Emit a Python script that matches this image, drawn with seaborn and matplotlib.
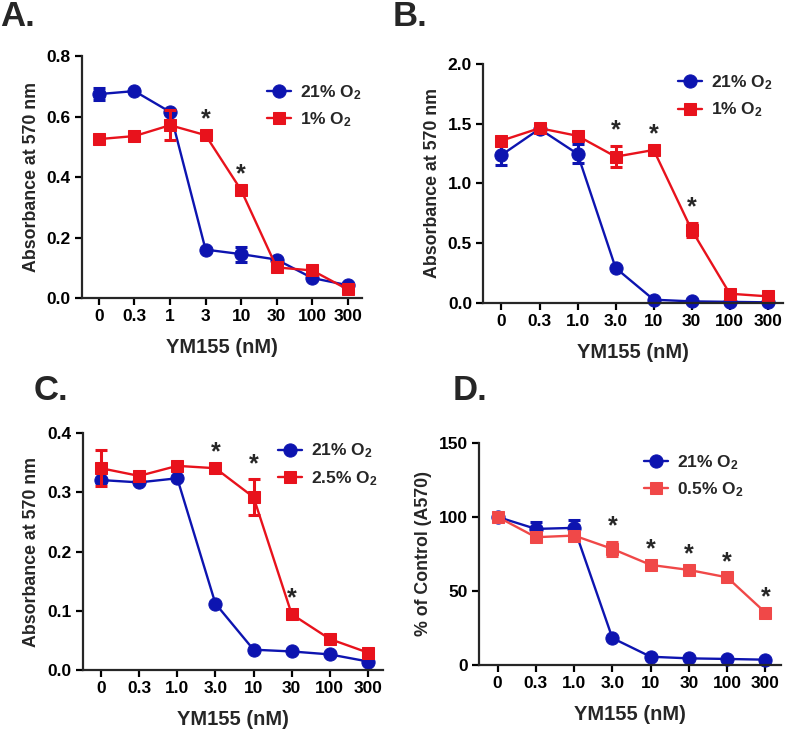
"""
Viabilidad (MTT) frente a dosis de YM155 en normoxia e hipoxia.
Cuatro paneles A-D, valores leídos de la figura original.
"""

import numpy as np
import pandas as pd
import matplotlib
matplotlib.use("Agg")
import matplotlib.pyplot as plt
import seaborn as sns
from matplotlib import font_manager

# Etiquetas de dosis (nM)
dosis_a = ["0", "0.3", "1", "3", "10", "30", "100", "300"]
dosis_bcd = ["0", "0.3", "1.0", "3.0", "10", "30", "100", "300"]

# Panel A
a_21 = [0.675, 0.685, 0.616, 0.160, 0.145, 0.127, 0.066, 0.042]
a_21_err = [0.021, 0, 0, 0, 0.025, 0, 0, 0]
a_hip = [0.526, 0.536, 0.572, 0.539, 0.357, 0.101, 0.091, 0.028]
a_hip_err = [0, 0, 0.050, 0, 0, 0, 0, 0]
a_sig = [3, 4]

# Panel B
b_21 = [1.237, 1.455, 1.246, 0.293, 0.028, 0.014, 0.010, 0.006]
b_21_err = [0.085, 0, 0.080, 0, 0, 0, 0, 0]
b_hip = [1.357, 1.461, 1.397, 1.223, 1.279, 0.609, 0.078, 0.056]
b_hip_err = [0, 0, 0, 0.090, 0, 0.060, 0, 0]
b_sig = [3, 4, 5]

# Panel C
c_21 = [0.321, 0.317, 0.324, 0.112, 0.034, 0.031, 0.026, 0.014]
c_21_err = [0, 0, 0, 0, 0, 0, 0, 0]
c_hip = [0.341, 0.328, 0.345, 0.341, 0.292, 0.094, 0.052, 0.029]
c_hip_err = [0.030, 0, 0, 0, 0.030, 0, 0, 0]
c_sig = [3, 4, 5]

# Panel D
d_21 = [100, 91.9, 92.6, 18.2, 5.6, 4.5, 4.1, 3.6]
d_21_err = [0, 5.0, 5.5, 0, 0, 0, 0, 0]
d_hip = [100, 86.3, 87.4, 78.4, 67.6, 64.2, 59.2, 35.4]
d_hip_err = [0, 0, 0, 4.5, 0, 0, 0, 0]
d_sig = [3, 4, 5, 6, 7]

AZUL = "#0d14b0"
ROJO = "#e8121c"
ROJO_CLARO = "#f04848"

sns.set_style("ticks")
plt.rcParams["font.family"] = ["Liberation Sans", "DejaVu Sans"]
plt.rcParams["font.weight"] = "bold"
plt.rcParams["mathtext.default"] = "regular"
plt.rcParams["axes.linewidth"] = 1.6

nombres = {f.name for f in font_manager.fontManager.ttflist}
fuente_ticks = "Liberation Sans Narrow" if "Liberation Sans Narrow" in nombres else "Liberation Sans"
tam_ticks = 15 if fuente_ticks == "Liberation Sans Narrow" else 12.5


def dibujar_panel(ax, etiquetas, serie_21, err_21, serie_hip, err_hip, color_hip,
                  nombre_hip, sig, ylim, yticks, fmt, ylabel, leyenda_pos):
    x = np.arange(len(etiquetas))
    series = [("21% O$_2$", serie_21, err_21, AZUL, "o", 9.5),
              (nombre_hip, serie_hip, err_hip, color_hip, "s", 8.5)]
    for nombre, valores, errores, color, marcador, tam in series:
        df = pd.DataFrame({"x": x, "y": valores})
        sns.lineplot(data=df, x="x", y="y", ax=ax, color=color, marker=marcador,
                     markersize=tam, markeredgecolor=color, linewidth=1.7,
                     label=nombre, clip_on=False)
        errores = np.asarray(errores, dtype=float)
        m = errores > 0
        if m.any():
            ax.errorbar(x[m], np.asarray(valores)[m], yerr=errores[m], fmt="none",
                        ecolor=color, elinewidth=2.2, capsize=4.5, capthick=2.2,
                        clip_on=False)
    # asteriscos de significancia sobre la serie hipóxica
    for i in sig:
        tope = serie_hip[i] + err_hip[i]
        ax.annotate("*", xy=(i, tope), xytext=(0, 2.5), textcoords="offset points",
                    ha="center", va="bottom", fontsize=18, fontweight="bold")

    ax.set_xlim(-0.48, 7.4)
    ax.set_ylim(*ylim)
    ax.set_xticks(x)
    ax.set_xticklabels(etiquetas)
    ax.set_yticks(yticks)
    ax.set_yticklabels([fmt.format(v) for v in yticks])
    for t in ax.get_xticklabels() + ax.get_yticklabels():
        t.set_fontfamily(fuente_ticks)
        t.set_fontsize(tam_ticks)
        t.set_fontweight("bold")
    ax.tick_params(axis="both", width=1.6, length=5, pad=3, colors="black")
    ax.set_xlabel("YM155 (nM)", fontsize=14.5, fontweight="bold", labelpad=10)
    ax.set_ylabel(ylabel, fontsize=12.8, fontweight="bold", labelpad=5)
    sns.despine(ax=ax)
    ax.legend(loc="upper left", bbox_to_anchor=leyenda_pos, frameon=False,
              handlelength=1.4, handletextpad=0.5,
              borderpad=0, borderaxespad=0, labelspacing=0.5,
              prop={"weight": "bold", "size": 12.5})


fig = plt.figure(figsize=(7.87, 7.32), dpi=100)
ax_a = fig.add_axes([0.104, 0.593, 0.356, 0.330])
ax_b = fig.add_axes([0.614, 0.586, 0.381, 0.327])
ax_c = fig.add_axes([0.105, 0.085, 0.382, 0.323])
ax_d = fig.add_axes([0.609, 0.0915, 0.383, 0.3035])

dibujar_panel(ax_a, dosis_a, a_21, a_21_err, a_hip, a_hip_err, ROJO, "1% O$_2$",
              a_sig, (0, 0.8), [0, 0.2, 0.4, 0.6, 0.8], "{:.1f}",
              "Absorbance at 570 nm", (0.66, 0.89))
dibujar_panel(ax_b, dosis_bcd, b_21, b_21_err, b_hip, b_hip_err, ROJO, "1% O$_2$",
              b_sig, (0, 2.0), [0, 0.5, 1.0, 1.5, 2.0], "{:.1f}",
              "Absorbance at 570 nm", (0.65, 0.96))
dibujar_panel(ax_c, dosis_bcd, c_21, c_21_err, c_hip, c_hip_err, ROJO, "2.5% O$_2$",
              c_sig, (0, 0.4), [0, 0.1, 0.2, 0.3, 0.4], "{:.1f}",
              "Absorbance at 570 nm", (0.65, 0.965))
dibujar_panel(ax_d, dosis_bcd, d_21, d_21_err, d_hip, d_hip_err, ROJO_CLARO, "0.5% O$_2$",
              d_sig, (0, 150), [0, 50, 100, 150], "{:.0f}",
              "% of Control (A570)", (0.545, 0.955))

for letra, x, y in [("A.", 0.0, 0.977), ("B.", 0.499, 0.977),
                    ("C.", 0.043, 0.466), ("D.", 0.575, 0.466)]:
    fig.text(x, y, letra, fontsize=25, fontweight="bold", va="center", ha="left")

fig.savefig("out.png", dpi=100)
